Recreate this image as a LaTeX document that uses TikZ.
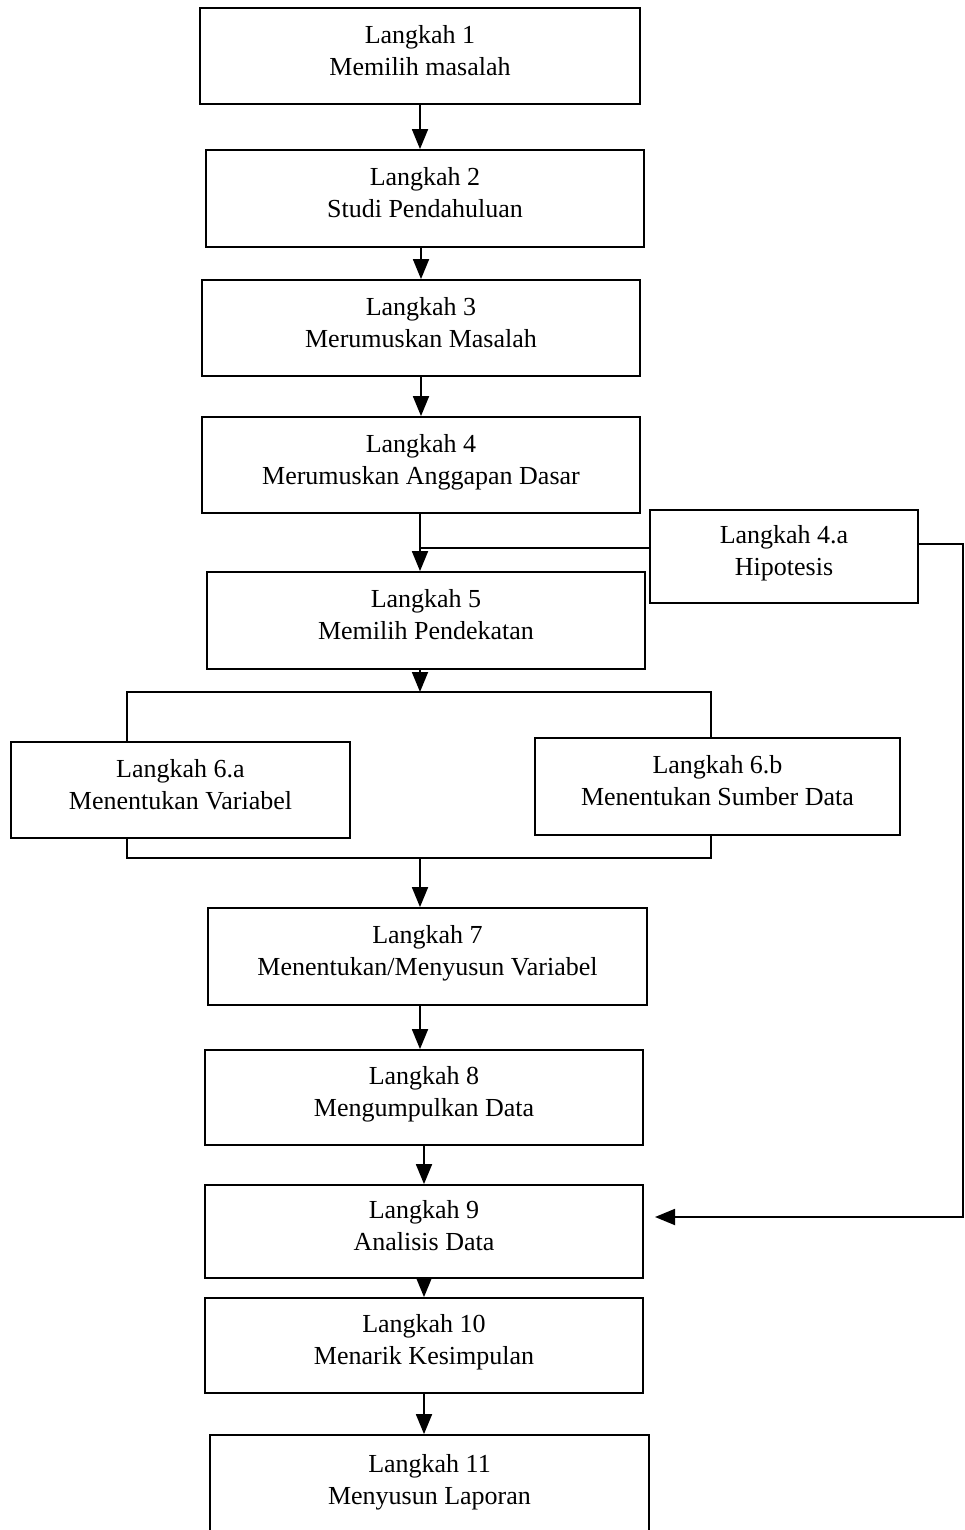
\documentclass[tikz,border=0pt]{standalone}
\usepackage{fontspec}
\setmainfont{Liberation Serif}
\usetikzlibrary{arrows.meta}
\begin{document}
\begin{tikzpicture}[x=1pt,y=-1pt,
  box/.style={draw, line width=1.8pt, inner sep=0pt, align=center, text depth=12pt, font=\fontsize{26}{32}\selectfont},
  arr/.style={line width=1.8pt, -{Triangle[length=20pt,width=16pt]}},
  ln/.style={line width=1.8pt}]
\useasboundingbox (0,0) rectangle (965,1530);
\clip (0,0) rectangle (965,1530);
\node[box, minimum width=440pt, minimum height=96pt] (b1) at (420,56) {Langkah 1\\Memilih masalah};
\node[box, minimum width=438pt, minimum height=97pt] (b2) at (425,198.5) {Langkah 2\\Studi Pendahuluan};
\node[box, minimum width=438pt, minimum height=96pt] (b3) at (421,328) {Langkah 3\\Merumuskan Masalah};
\node[box, minimum width=438pt, minimum height=96pt] (b4) at (421,465) {Langkah 4\\Merumuskan Anggapan Dasar};
\node[box, minimum width=268pt, minimum height=93pt] (b4a) at (784,556.5) {Langkah 4.a\\Hipotesis};
\node[box, minimum width=438pt, minimum height=97pt] (b5) at (426,620.5) {Langkah 5\\Memilih Pendekatan};
\node[box, minimum width=339pt, minimum height=96pt] (b6a) at (180.5,790) {Langkah 6.a\\Menentukan Variabel};
\node[box, minimum width=365pt, minimum height=97pt] (b6b) at (717.5,786.5) {Langkah 6.b\\Menentukan Sumber Data};
\node[box, minimum width=439pt, minimum height=97pt] (b7) at (427.5,956.5) {Langkah 7\\Menentukan/Menyusun Variabel};
\node[box, minimum width=438pt, minimum height=95pt] (b8) at (424,1097.5) {Langkah 8\\Mengumpulkan Data};
\node[box, minimum width=438pt, minimum height=93pt] (b9) at (424,1231.5) {Langkah 9\\Analisis Data};
\node[box, minimum width=438pt, minimum height=95pt] (b10) at (424,1345.5) {Langkah 10\\Menarik Kesimpulan};
\node[box, minimum width=439pt, minimum height=100pt] (b11) at (429.5,1485) {Langkah 11\\Menyusun Laporan};
% coordinates
\coordinate (j4) at (420,548);
\coordinate (rt) at (963,544);
\coordinate (a9) at (655,1217);
\coordinate (bt) at (420,692);
\coordinate (bl) at (127,692);
\coordinate (br) at (711,692);
\coordinate (bbl) at (127,858);
\coordinate (bbr) at (711,858);
\coordinate (bb) at (420,858);
% connectors
\draw[arr] (b1.south) -- (b1.south |- b2.north);
\draw[arr] (b3.north |- b2.south) -- (b3.north);
\draw[arr] (b3.south) -- (b3.south |- b4.north);
\draw[arr] (b4.south -| j4) -- (b5.north -| j4);
\draw[ln] (b4a.west |- j4) -- (j4);
\draw[arr] (b4a.east |- rt) -- (rt) |- (a9);
\draw[arr] (b5.south -| bt) -- (bt);
\draw[ln] (b6a.north -| bl) -- (bl) -- (br) -- (b6b.north -| br);
\draw[ln] (b6a.south -| bbl) -- (bbl) -- (bbr) -- (b6b.south -| bbr);
\draw[arr] (bb) -- (b7.north -| bb);
\draw[arr] (b7.south -| bb) -- (b8.north -| bb);
\draw[arr] (b8.south) -- (b8.south |- b9.north);
\draw[arr] (b9.south) -- (b9.south |- b10.north);
\draw[arr] (b10.south) -- (b10.south |- b11.north);
\end{tikzpicture}
\end{document}
